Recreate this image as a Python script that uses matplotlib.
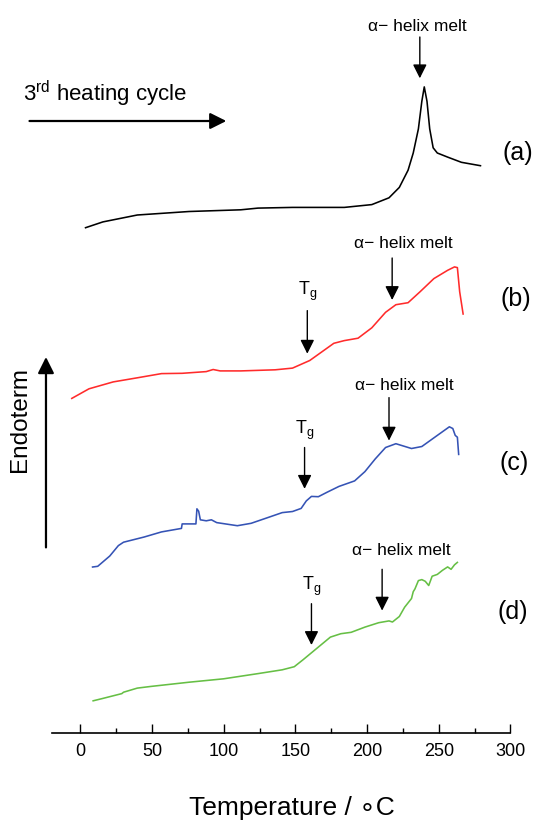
import matplotlib
matplotlib.use("Agg")
import matplotlib.pyplot as plt
from matplotlib.ticker import MultipleLocator

plt.rcParams['font.family'] = ['Liberation Sans', 'DejaVu Sans']
plt.rcParams['mathtext.fontset'] = 'custom'
plt.rcParams['mathtext.rm'] = 'Liberation Sans'
plt.rcParams['mathtext.it'] = 'Liberation Sans:italic'

# ---- data (temperature in degC, signal in arbitrary offset units; axis drawn downward) ----
temp_a = [3.6, 15.7, 39.7, 75.8, 111.9, 123.9, 148.0, 184.1, 203.3, 215.3, 222.5, 228.6,
          232.2, 235.8, 238.2, 239.9, 241.8, 243.7, 246.1, 249.0, 256.2, 265.8, 279.1]
sig_a = [227.7, 221.9, 215.0, 211.5, 209.8, 208.1, 207.4, 207.4, 204.6, 197.8, 187.4, 170.2,
         153.0, 128.9, 101.3, 86.9, 101.3, 128.9, 147.8, 153.0, 157.1, 162.3, 165.7]

temp_b = [-6.0, 6.0, 22.9, 39.7, 56.6, 71.0, 87.8, 92.6, 97.5, 111.9, 135.9, 148.0, 160.0,
          168.4, 176.8, 184.1, 193.7, 203.3, 212.9, 220.1, 228.6, 237.0, 246.6, 256.2,
          261.0, 263.0, 264.6, 267.0]
sig_b = [398.4, 388.8, 381.9, 377.8, 373.6, 373.3, 371.6, 369.5, 370.9, 370.9, 369.8, 368.1,
         360.5, 351.9, 343.3, 340.6, 338.2, 327.8, 312.3, 304.7, 302.7, 291.7, 278.6, 270.3,
         266.9, 267.6, 291.7, 314.0]

temp_c = [8.5, 12.1, 20.5, 26.5, 30.1, 44.5, 56.6, 70.5, 71.0, 80.6, 81.3, 82.5, 83.7, 87.8,
          91.4, 95.1, 109.5, 119.1, 131.1, 140.8, 148.0, 154.0, 157.6, 161.2, 166.0, 172.0,
          180.4, 191.3, 198.5, 205.7, 212.9, 220.1, 231.0, 238.2, 249.0, 257.4, 259.8,
          261.5, 263.0, 263.9]
sig_c = [567.0, 566.3, 556.0, 545.6, 542.2, 537.0, 531.9, 528.4, 523.9, 523.9, 508.8, 511.2,
         519.8, 520.8, 519.8, 522.6, 525.7, 523.3, 517.4, 512.6, 511.5, 508.4, 500.9, 496.4,
         496.7, 492.3, 486.4, 480.9, 471.6, 458.9, 447.5, 443.7, 448.5, 446.5, 435.4, 426.8,
         428.5, 435.4, 437.2, 454.4]

temp_d = [8.9, 15.7, 28.9, 30.1, 39.7, 49.3, 75.8, 99.9, 123.9, 140.8, 149.2, 155.2, 164.8,
          174.4, 181.7, 188.9, 198.5, 208.1, 215.3, 217.7, 222.5, 226.2, 231.0, 232.2, 233.4,
          235.8, 238.2, 240.6, 243.0, 245.4, 249.0, 252.6, 256.2, 258.6, 261.0, 263.0]
sig_d = [700.8, 698.4, 693.6, 692.2, 688.1, 686.4, 682.2, 678.8, 673.6, 669.8, 666.7, 659.9,
         648.5, 637.1, 633.7, 632.3, 627.1, 622.7, 620.9, 622.0, 616.5, 607.2, 598.5, 591.7,
         588.9, 580.6, 579.6, 581.3, 585.5, 576.2, 574.4, 570.3, 566.9, 569.3, 564.8, 562.4]

curve_colors = ['#000000', '#ff2b2b', '#3553b5', '#66bf45']
curve_labels = ['(a)', '(b)', '(c)', '(d)']
label_pos = [(294.8, 153), (293.0, 298.5), (292.3, 463), (291.0, 612)]

# annotations: (temp, arrow start, arrow tip)
helix_arrows = [(236.8, 37, 78.3), (217.5, 258, 300), (215.3, 397.6, 440.6), (210.5, 569.3, 610.6)]
helix_text = [(235.1, 26), (225.0, 243), (226.2, 385.5), (223.7, 550.3)]
tg_arrows = [(158.3, 310.6, 353.7), (156.4, 447.5, 488.8), (161.2, 603.7, 645.0)]
tg_text_y = [291, 430, 586]

xticks = [0, 50, 100, 150, 200, 250, 300]

fig = plt.figure(figsize=(5.37, 8.24), dpi=100)
ax = fig.add_axes([0.0963, 0.1103, 0.8542, 0.8897])
ax.set_xlim(-20, 300)
ax.set_ylim(733.1, 0)

for t, s, c in zip([temp_a, temp_b, temp_c, temp_d], [sig_a, sig_b, sig_c, sig_d], curve_colors):
    ax.plot(t, s, color=c, lw=1.15, solid_joinstyle='round')

for lab, (x, y) in zip(curve_labels, label_pos):
    ax.text(x, y, lab, fontsize=18, ha='left', va='center', clip_on=False)

arrow_kw = dict(arrowstyle='-|>,head_length=0.7,head_width=0.35', lw=1.0, color='black',
                mutation_scale=12, shrinkA=0, shrinkB=0)
for (t, y0, y1) in helix_arrows:
    ax.annotate('', xy=(t, y1), xytext=(t, y0), arrowprops=arrow_kw, annotation_clip=False)
for (t, y) in helix_text:
    ax.text(t, y, 'α− helix melt', fontsize=12.5, ha='center', va='center')
for (t, y0, y1), ty in zip(tg_arrows, tg_text_y):
    ax.annotate('', xy=(t, y1), xytext=(t, y0), arrowprops=arrow_kw, annotation_clip=False)
    ax.text(t, ty, r'T$_{\mathrm{g}}$', fontsize=13, ha='center', va='center')

# heating cycle arrow and text
ax.text(-40.2, 94, r'3$^{\mathrm{rd}}$ heating cycle', fontsize=16, ha='left', va='center')
ax.annotate('', xy=(101.8, 121), xytext=(-35.5, 121), annotation_clip=False,
            arrowprops=dict(arrowstyle='-|>,head_length=0.7,head_width=0.35', lw=1.6,
                            color='black', mutation_scale=14, shrinkA=0, shrinkB=0))

# Endoterm arrow and label
ax.annotate('', xy=(-24.0, 357), xytext=(-24.0, 547.4), annotation_clip=False,
            arrowprops=dict(arrowstyle='-|>,head_length=0.7,head_width=0.35', lw=1.6,
                            color='black', mutation_scale=14, shrinkA=0, shrinkB=0))
ax.text(-42.0, 419, 'Endoterm', fontsize=17.5, rotation=90, ha='center', va='center')

for sp in ['top', 'left', 'right']:
    ax.spines[sp].set_visible(False)
ax.spines['bottom'].set_linewidth(1.2)
ax.set_yticks([])
ax.set_xticks(xticks)
ax.xaxis.set_minor_locator(MultipleLocator(25))
ax.tick_params(axis='x', which='major', direction='in', length=6.5, width=1.0, labelsize=13, pad=7)
ax.tick_params(axis='x', which='minor', direction='in', length=3.6, width=1.0)

fig.text(292 / 537, 1 - 808 / 824, 'Temperature / ∘C', fontsize=19, ha='center', va='center')

fig.savefig('out.png', dpi=100)
